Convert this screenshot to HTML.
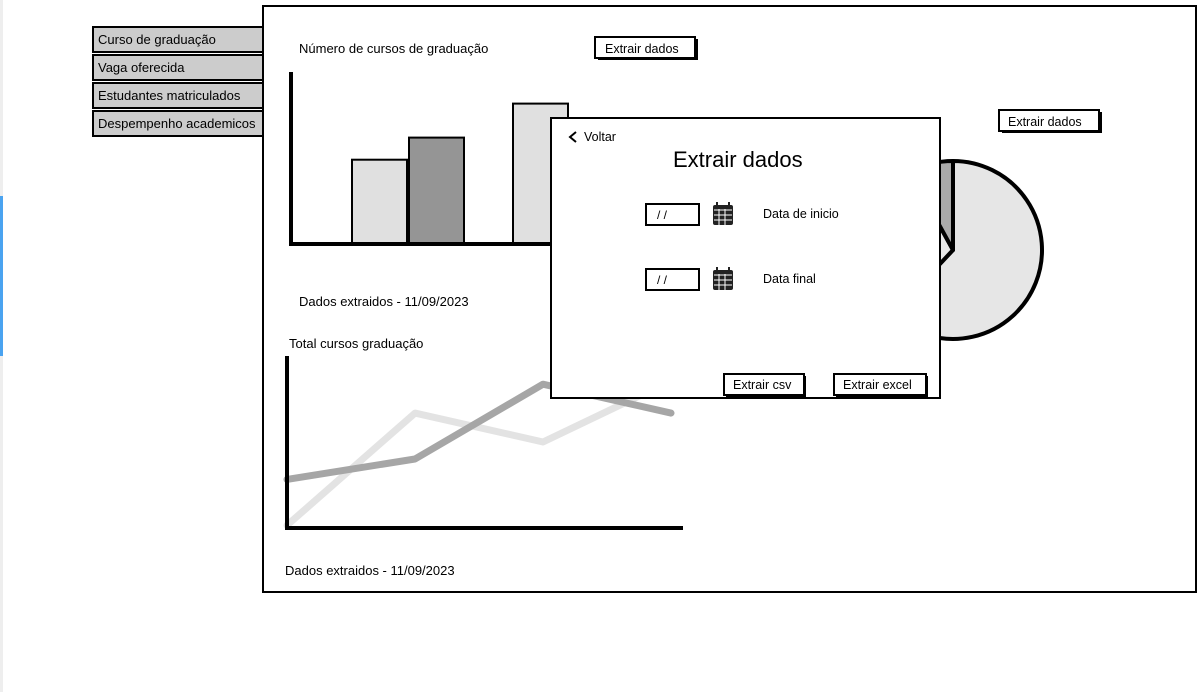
<!DOCTYPE html>
<html><head><meta charset="utf-8"><style>
body{margin:0;width:1202px;height:692px;background:#fff;overflow:hidden;position:relative;font-family:"Liberation Sans",sans-serif;}
svg{position:absolute;left:0;top:0}
text{font-family:"Liberation Sans",sans-serif;fill:#000}
</style></head><body>
<svg width="1202" height="692">
<rect x="0" y="0" width="3" height="692" fill="#eee"/>
<rect x="0" y="196" width="3" height="160" fill="#4aa3f0"/>
<g>
<g><rect x="93" y="27" width="172" height="25" fill="#ccc" stroke="#000" stroke-width="2"/><text x="98" y="44" font-size="13">Curso de graduação</text></g>
<g><rect x="93" y="55" width="172" height="25" fill="#ccc" stroke="#000" stroke-width="2"/><text x="98" y="72" font-size="13">Vaga oferecida</text></g>
<g><rect x="93" y="83" width="172" height="25" fill="#ccc" stroke="#000" stroke-width="2"/><text x="98" y="100" font-size="13">Estudantes matriculados</text></g>
<g><rect x="93" y="111" width="172" height="25" fill="#ccc" stroke="#000" stroke-width="2"/><text x="98" y="128" font-size="13">Despempenho academicos</text></g>
</g>
<rect x="263" y="6" width="933" height="586" fill="#fff" stroke="#000" stroke-width="2"/>
<text x="299" y="53" font-size="13">Número de cursos de graduação</text>
<g><rect x="598" y="39" width="100" height="21" fill="#000"/><rect x="595" y="37" width="100" height="21" fill="#fff" stroke="#000" stroke-width="2"/><text x="605" y="53" font-size="12.5">Extrair dados</text></g>
<g><rect x="1002" y="112" width="100" height="21" fill="#000"/><rect x="999" y="110" width="100" height="21" fill="#fff" stroke="#000" stroke-width="2"/><text x="1008" y="126" font-size="12.5">Extrair dados</text></g>
<g id="bars"></g>
<g id="pie"></g>
<text x="299" y="306" font-size="13">Dados extraidos - 11/09/2023</text>
<text x="289" y="348" font-size="13">Total cursos graduação</text>
<g id="lines"></g>
<text x="285" y="575" font-size="13">Dados extraidos - 11/09/2023</text>
<g>
<rect x="551" y="118" width="389" height="280" fill="#fff" stroke="#000" stroke-width="2"/>
<g><path d="M576 132 L570 137 L576 142" fill="none" stroke="#000" stroke-width="2"/><text x="584" y="141" font-size="12.5">Voltar</text></g>
<text x="673" y="167" font-size="22">Extrair dados</text>
<g><rect x="646" y="204" width="53" height="21" fill="#fff" stroke="#000" stroke-width="2"/><text x="657" y="219" font-size="12">/ /</text></g>
<g><rect x="713" y="205" width="20" height="20" rx="2" fill="#222"/><rect x="716" y="202" width="2" height="4" fill="#222"/><rect x="728" y="202" width="2" height="4" fill="#222"/><path d="M714 210H732M714 215H732M714 220H732M719 209V225M725 209V225" stroke="#fff" stroke-width="1"/></g>
<text x="763" y="218" font-size="12.5">Data de inicio</text>
<g><rect x="646" y="269" width="53" height="21" fill="#fff" stroke="#000" stroke-width="2"/><text x="657" y="284" font-size="12">/ /</text></g>
<g><rect x="713" y="270" width="20" height="20" rx="2" fill="#222"/><rect x="716" y="267" width="2" height="4" fill="#222"/><rect x="728" y="267" width="2" height="4" fill="#222"/><path d="M714 275H732M714 280H732M714 285H732M719 274V290M725 274V290" stroke="#fff" stroke-width="1"/></g>
<text x="763" y="283" font-size="12.5">Data final</text>
<g><rect x="726" y="376" width="80" height="21" fill="#000"/><rect x="724" y="374" width="80" height="21" fill="#fff" stroke="#000" stroke-width="2"/><text x="733" y="389" font-size="12.5">Extrair csv</text></g>
<g><rect x="836" y="376" width="92" height="21" fill="#000"/><rect x="834" y="374" width="92" height="21" fill="#fff" stroke="#000" stroke-width="2"/><text x="843" y="389" font-size="12.5">Extrair excel</text></g>
</g>
</svg>
<script>
const barCategories=['A','B','C'];
const barValues=[49,62,82];
const barFills=['#e0e0e0','#959595','#e0e0e0'];
const lineCategories=['1','2','3','4'];
const seriesDark=[28,40,84,67];
const seriesLight=[1,67,50,86];
const pieValues=[62,30,8];
const NS='http://www.w3.org/2000/svg';
function mk(tag,attrs,parent){const e=document.createElementNS(NS,tag);for(const k in attrs)e.setAttribute(k,attrs[k]);parent.appendChild(e);return e;}
// bars
const bx=[352,409,513];
const byScale=v=>243-v*1.7;
const bars=document.getElementById('bars');
barValues.forEach((v,i)=>{
 const r=mk('rect',{x:bx[i],y:byScale(v),width:55,height:243-byScale(v),fill:barFills[i],stroke:'#000','stroke-width':2},bars);
 
 
});
const bax=mk('path',{d:'M291 72V244H552',fill:'none',stroke:'#000','stroke-width':4},bars);


// pie
const pie=document.getElementById('pie');
const cx=953,cy=250,R=89;
let total=pieValues.reduce((a,b)=>a+b,0),ang=-Math.PI/2;
const pf=['#e6e6e6','#e6e6e6','#aaa'];
pieValues.forEach((v,i)=>{
 const a2=ang+v/total*2*Math.PI;
 const large=(a2-ang)>Math.PI?1:0;
 const p=mk('path',{d:`M${cx} ${cy}L${cx+R*Math.cos(ang)} ${cy+R*Math.sin(ang)}A${R} ${R} 0 ${large} 1 ${cx+R*Math.cos(a2)} ${cy+R*Math.sin(a2)}Z`,fill:pf[i],stroke:'#000','stroke-width':4,'stroke-linejoin':'round'},pie);
 
 
 ang=a2;
});
// lines
const lines=document.getElementById('lines');
const lx=i=>287+i*128;
const ly=v=>527-v*1.7;
[[seriesLight,'#e3e3e3','light'],[seriesDark,'#a6a6a6','dark']].forEach(([s,c,n])=>{
 const pl=mk('polyline',{points:s.map((v,i)=>lx(i)+','+ly(v)).join(' '),fill:'none',stroke:c,'stroke-width':7,'stroke-linecap':'round','stroke-linejoin':'round'},lines);
 
 
});
const lax=mk('path',{d:'M287 356V528H683',fill:'none',stroke:'#000','stroke-width':4},lines);


</script>
</body></html>
